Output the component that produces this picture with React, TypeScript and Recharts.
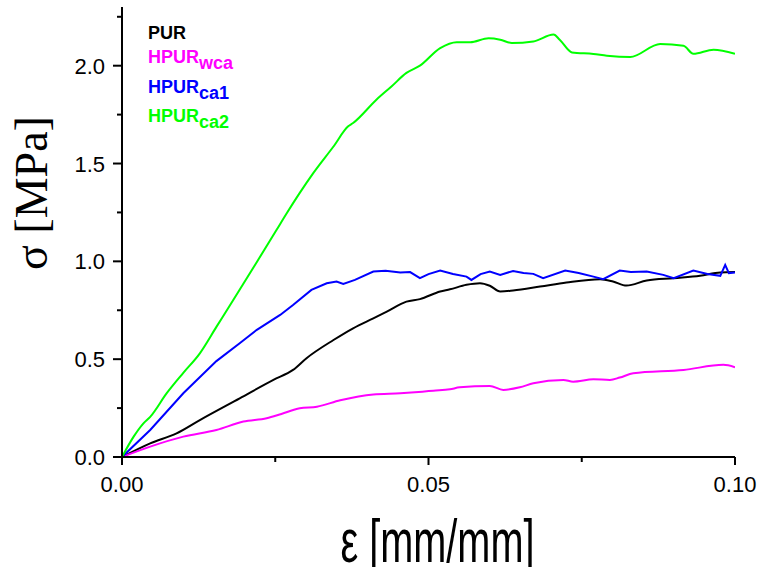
import React from "react";
import { LineChart, Line, XAxis, YAxis, Legend, Label } from "recharts";

// PUR (black)
const purEps = [0, 0.0046, 0.0089, 0.0127, 0.0192, 0.0247, 0.0279, 0.0301, 0.0345, 0.0377, 0.041, 0.0432, 0.0464, 0.0486, 0.0519, 0.0535, 0.0562, 0.0584, 0.06, 0.0617, 0.0638, 0.0682, 0.0725, 0.078, 0.0801, 0.0823, 0.0856, 0.09, 0.0943, 0.0976, 0.1];
const purSig = [0, 0.07, 0.121, 0.189, 0.3, 0.394, 0.445, 0.505, 0.598, 0.658, 0.709, 0.743, 0.794, 0.807, 0.846, 0.857, 0.88, 0.888, 0.875, 0.846, 0.851, 0.871, 0.892, 0.909, 0.897, 0.876, 0.902, 0.914, 0.926, 0.943, 0.945];

// HPURwca (magenta)
const wcaEps = [0, 0.0046, 0.01, 0.0154, 0.0198, 0.0236, 0.026, 0.029, 0.0318, 0.0356, 0.041, 0.0454, 0.049, 0.0508, 0.0535, 0.0551, 0.06, 0.0622, 0.0649, 0.0671, 0.072, 0.0736, 0.0769, 0.0796, 0.0812, 0.0834, 0.0916, 0.0981, 0.1];
const wcaSig = [0, 0.053, 0.104, 0.138, 0.181, 0.198, 0.22, 0.249, 0.257, 0.29, 0.32, 0.326, 0.334, 0.339, 0.346, 0.356, 0.363, 0.343, 0.356, 0.377, 0.394, 0.385, 0.397, 0.394, 0.406, 0.428, 0.445, 0.471, 0.459];

// HPURca1 (blue)
const ca1Eps = [0, 0.0046, 0.01, 0.0154, 0.0192, 0.022, 0.0258, 0.0279, 0.0309, 0.0334, 0.035, 0.0361, 0.038, 0.041, 0.043, 0.0454, 0.047, 0.0486, 0.05, 0.0519, 0.054, 0.0562, 0.057, 0.0585, 0.06, 0.0617, 0.0638, 0.0655, 0.0671, 0.0687, 0.0723, 0.0745, 0.0769, 0.0785, 0.0812, 0.083, 0.0856, 0.0883, 0.09, 0.0932, 0.0955, 0.0976, 0.0984, 0.099, 0.1];
const ca1Sig = [0, 0.138, 0.326, 0.49, 0.581, 0.65, 0.726, 0.777, 0.854, 0.888, 0.897, 0.885, 0.905, 0.948, 0.952, 0.943, 0.945, 0.914, 0.935, 0.953, 0.935, 0.922, 0.905, 0.935, 0.948, 0.931, 0.951, 0.94, 0.936, 0.914, 0.953, 0.94, 0.922, 0.909, 0.953, 0.945, 0.948, 0.931, 0.914, 0.953, 0.935, 0.926, 0.982, 0.94, 0.943];

// HPURca2 (green)
const ca2Eps = [0, 0.0019, 0.0035, 0.0046, 0.0073, 0.01, 0.0127, 0.0154, 0.0181, 0.0222, 0.0252, 0.0269, 0.029, 0.0312, 0.0345, 0.0369, 0.0377, 0.0415, 0.044, 0.0464, 0.0486, 0.0519, 0.0546, 0.0568, 0.0598, 0.0617, 0.0636, 0.0671, 0.0704, 0.0714, 0.0734, 0.0769, 0.0791, 0.0829, 0.0878, 0.0916, 0.0932, 0.0965, 0.1];
const ca2Sig = [0, 0.104, 0.172, 0.205, 0.326, 0.43, 0.53, 0.665, 0.8, 1.007, 1.16, 1.247, 1.35, 1.451, 1.587, 1.69, 1.707, 1.826, 1.895, 1.963, 2.0, 2.09, 2.12, 2.12, 2.14, 2.133, 2.116, 2.124, 2.159, 2.133, 2.068, 2.06, 2.051, 2.044, 2.111, 2.102, 2.061, 2.082, 2.061];

const xTicks = [0, 0.025, 0.05, 0.075, 0.1];
const yTicks = [0, 0.25, 0.5, 0.75, 1.0, 1.25, 1.5, 1.75, 2.0, 2.25];

const seriesNames = ["PUR", "HPURwca", "HPURca1", "HPURca2"];
const legendBase = ["PUR", "HPUR", "HPUR", "HPUR"];
const legendSub = ["", "wca", "ca1", "ca2"];
const seriesColors = ["#000000", "#ff00ff", "#0000ff", "#00ff00"];

const build = (xs: number[], ys: number[]) => xs.map((x, i) => ({ x, y: ys[i] }));

const series = [
  { name: seriesNames[0], color: seriesColors[0], data: build(purEps, purSig), type: "monotone" },
  { name: seriesNames[1], color: seriesColors[1], data: build(wcaEps, wcaSig), type: "monotone" },
  { name: seriesNames[2], color: seriesColors[2], data: build(ca1Eps, ca1Sig), type: "linear" },
  { name: seriesNames[3], color: seriesColors[3], data: build(ca2Eps, ca2Sig), type: "monotone" },
];

const FONT = "'Liberation Sans', Arial, sans-serif";

const XTick = (props: any) => {
  const { x, y, payload, index } = props;
  const major = index % 2 === 0;
  return (
    <g>
      <line x1={x} x2={x} y1={y} y2={y + (major ? 8 : 5)} stroke="#000" strokeWidth={2} />
      {major && (
        <text x={x} y={y + 35} textAnchor="middle" fontSize={22} fontFamily={FONT} fill="#000">
          {Number(payload.value).toFixed(2)}
        </text>
      )}
    </g>
  );
};

const YTick = (props: any) => {
  const { x, y, payload, index } = props;
  const major = index % 2 === 0;
  return (
    <g>
      <line x1={x - (major ? 9 : 5)} x2={x} y1={y} y2={y} stroke="#000" strokeWidth={2} />
      {major && (
        <text x={x - 17} y={y + 8} textAnchor="end" fontSize={22} fontFamily={FONT} fill="#000">
          {Number(payload.value).toFixed(1)}
        </text>
      )}
    </g>
  );
};

const LegendContent = (props: any) => {
  const payload = props.payload || [];
  const baselines = [19, 42.5, 72.5, 101.5];
  return (
    <svg width={130} height={112} style={{ overflow: "visible" }}>
      {seriesNames.map((name, i) => {
        const item = payload.find((p: any) => p.value === name);
        const color = item ? item.color : seriesColors[i];
        return (
          <text key={name} x={0} y={baselines[i]} fontSize={18} fontWeight="bold" fontFamily={FONT} fill={color}>
            {legendBase[i]}
            {legendSub[i] && (
              <tspan dy={6} fontSize={18}>
                {legendSub[i]}
              </tspan>
            )}
          </text>
        );
      })}
    </svg>
  );
};

export default function App() {
  return (
    <div style={{ position: "absolute", left: 0, top: 0 }}>
      <LineChart width={761} height={567} margin={{ top: 7, right: 26, bottom: 0, left: 0 }}>
        <XAxis
          type="number"
          dataKey="x"
          domain={[0, 0.1]}
          ticks={xTicks}
          interval={0}
          allowDataOverflow
          height={110}
          tickSize={0}
          tickMargin={0}
          tickLine={false}
          tick={<XTick />}
          axisLine={{ stroke: "#000", strokeWidth: 2 }}
        >
          <Label
            content={(p: any) => {
              const vb = p.viewBox || { x: 122, y: 457, width: 613 };
              const cx = vb.x + vb.width / 2 + 9;
              const cy = vb.y + 105;
              return (
                <text
                  transform={`translate(${cx},${cy}) scale(0.64,1)`}
                  textAnchor="middle"
                  fontSize={62}
                  fontFamily={FONT}
                  fill="#000"
                >
                  ε [mm/mm]
                </text>
              );
            }}
          />
        </XAxis>
        <YAxis
          type="number"
          dataKey="y"
          domain={[0, 2.3]}
          ticks={yTicks}
          interval={0}
          allowDataOverflow
          width={122}
          tickSize={0}
          tickMargin={0}
          tickLine={false}
          tick={<YTick />}
          axisLine={{ stroke: "#000", strokeWidth: 2 }}
        >
          <Label
            content={(p: any) => {
              const vb = p.viewBox || { x: 0, y: 7 };
              const tx = vb.x + 47;
              const ty = vb.y + 186;
              return (
                <text
                  transform={`rotate(-90, ${tx}, ${ty})`}
                  x={tx}
                  y={ty}
                  textAnchor="middle"
                  fontSize={46}
                  fontFamily="'Liberation Serif', 'Times New Roman', serif"
                  fill="#000"
                >
                  σ [MPa]
                </text>
              );
            }}
          />
        </YAxis>
        <Legend
          layout="vertical"
          align="center"
          verticalAlign="middle"
          content={<LegendContent />}
          wrapperStyle={{ position: "absolute", left: 148, top: 20, width: 130, height: 112 }}
        />
        {series.map((s) => (
          <Line
            key={s.name}
            name={s.name}
            data={s.data}
            dataKey="y"
            type={s.type as any}
            stroke={s.color}
            strokeWidth={2}
            dot={false}
            activeDot={false}
            isAnimationActive={false}
          />
        ))}
      </LineChart>
    </div>
  );
}
